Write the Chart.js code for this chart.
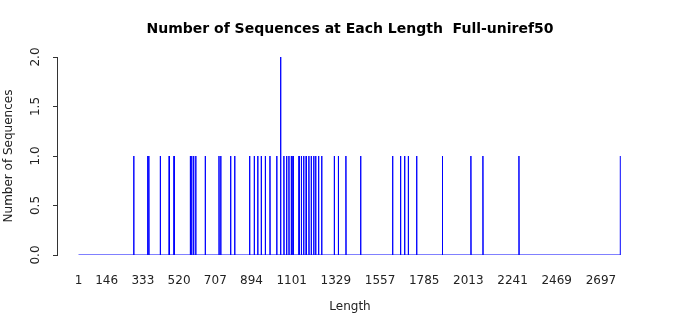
<!DOCTYPE html>
<html><head><meta charset="utf-8">
<script src="https://cdn.jsdelivr.net/npm/chart.js@4.4.0/dist/chart.umd.min.js"></script>
<style>html,body{margin:0;padding:0;background:#fff}#wrap{width:700px;height:315px}</style>
</head><body><div id="wrap"><canvas id="c" width="700" height="315"></canvas></div>
<script>
const titleText = "Number of Sequences at Each Length  Full-uniref50";
const xTitle = "Length";
const yTitle = "Number of Sequences";
const xTickValues = [1,146,333,520,707,894,1101,1329,1557,1785,2013,2241,2469,2697];
const yTickValues = [0,0.5,1,1.5,2];
const yTickLabels = ["0.0","0.5","1.0","1.5","2.0"];
const minLength = 1;
const maxLength = 2797;
const lengthsWithOne = [286,358,364,423,469,494,578,585,595,606,655,726,735,786,807,884,908,926,944,965,989,1024,1061,1075,1087,1099,1108,1139,1151,1163,1176,1190,1202,1215,1225,1240,1256,1321,1342,1381,1457,1622,1663,1684,1703,1746,1879,2026,2088,2274,2797];
const lengthsWithTwo = [1044];

const counts = {};
lengthsWithOne.forEach(l => counts[l] = 1);
lengthsWithTwo.forEach(l => counts[l] = 2);
const spikeLengths = Object.keys(counts).map(Number).sort((a,b)=>a-b);
const points = [{x:minLength, y:0}];
spikeLengths.forEach(l => {
  if (l - 1 >= minLength) points.push({x:l-1, y:0});
  points.push({x:l, y:counts[l]});
  if (l + 1 <= maxLength) points.push({x:l+1, y:0});
});
if (points[points.length-1].x < maxLength) points.push({x:maxLength, y:0});

const FONT = "DejaVu Sans";
const textPlugin = {
  id: 'texts',
  afterDraw(chart) {
    const ctx = chart.ctx, ca = chart.chartArea, ys = chart.scales.y;
    ctx.save();
    ctx.fillStyle = '#000';
    ctx.textAlign = 'center';
    ctx.textBaseline = 'middle';
    ctx.font = "bold 14px '" + FONT + "'";
    ctx.fillText(titleText, 350, 29);
    ctx.fillStyle = '#222';
    ctx.font = "12px '" + FONT + "'";
    ctx.fillText(xTitle, 350, 307);
    ctx.save();
    ctx.translate(9, (ca.top + ca.bottom) / 2);
    ctx.rotate(-Math.PI / 2);
    ctx.fillText(yTitle, 0, 0);
    ctx.restore();
    yTickValues.forEach((v, i) => {
      ctx.save();
      ctx.translate(36, ys.getPixelForValue(v));
      ctx.rotate(-Math.PI / 2);
      ctx.fillText(yTickLabels[i], 0, 0);
      ctx.restore();
    });
    ctx.restore();
  }
};

new Chart(document.getElementById('c'), {
  type: 'line',
  data: { datasets: [{ data: points, borderColor: '#0000ff', borderWidth: 1, pointRadius: 0, tension: 0, fill: false }] },
  options: {
    responsive: false, animation: false, devicePixelRatio: 1,
    layout: { padding: { left: 0, right: 52, top: 57, bottom: 0 } },
    plugins: { legend: { display: false }, tooltip: { enabled: false }, title: { display: false } },
    scales: {
      x: {
        type: 'linear', min: -110, max: 2940,
        afterBuildTicks(s) { s.ticks = xTickValues.map(v => ({ value: v })); },
        afterFit(s) { s.height = 60; },
        ticks: { autoSkip: false, maxRotation: 0, minRotation: 0, padding: 11, color: '#222', font: { family: FONT, size: 12 }, callback: v => String(v) },
        grid: { display: false },
        border: { display: false }
      },
      y: {
        min: 0, max: 2,
        afterBuildTicks(s) { s.ticks = yTickValues.map(v => ({ value: v })); },
        afterFit(s) { s.width = 57; },
        ticks: { display: false },
        grid: { drawOnChartArea: false, drawTicks: true, tickLength: 4, color: '#333' },
        border: { display: true, color: '#333', width: 1 }
      }
    }
  },
  plugins: [textPlugin]
});
</script></body></html>
